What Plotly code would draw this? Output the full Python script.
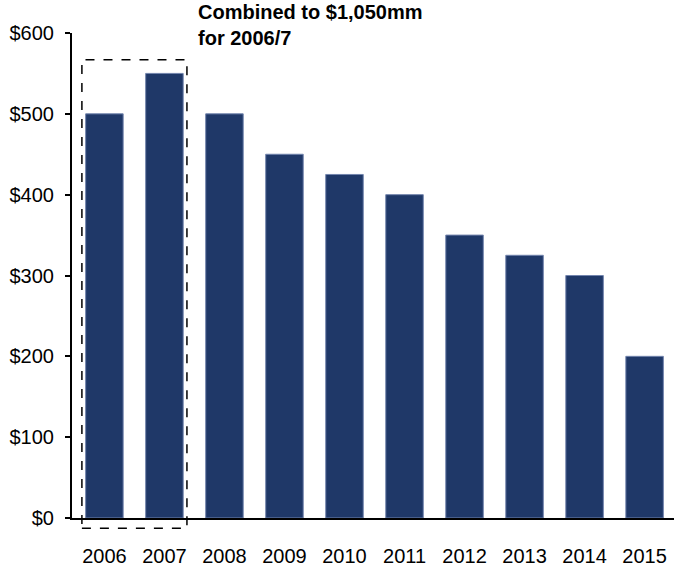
import plotly.graph_objects as go

years = ["2006", "2007", "2008", "2009", "2010", "2011", "2012", "2013", "2014", "2015"]
values = [500, 550, 500, 450, 425, 400, 350, 325, 300, 200]
y_ticks = [0, 100, 200, 300, 400, 500, 600]
note_lines = ["Combined to $1,050mm", "for 2006/7"]

FONT = "Arial, Liberation Sans, sans-serif"

fig = go.Figure(
    go.Bar(
        x=list(range(len(years))),
        y=values,
        width=0.625,
        marker=dict(color="#1f3868", line=dict(color="#7284ad", width=1)),
    )
)

fig.update_layout(
    width=674,
    height=567,
    margin=dict(l=72, r=0, t=33, b=49),
    plot_bgcolor="white",
    paper_bgcolor="white",
    showlegend=False,
    font=dict(family=FONT, color="black", size=20),
)

fig.update_xaxes(
    range=[-0.54, 9.49],
    tickvals=list(range(len(years))),
    ticktext=years,
    showline=True,
    linecolor="black",
    linewidth=2,
    ticks="",
    showgrid=False,
    zeroline=False,
    tickfont=dict(size=20, family=FONT),
    ticklabelstandoff=19,
)
fig.update_yaxes(
    range=[0, 600],
    tickvals=y_ticks,
    ticktext=[f"${v}" for v in y_ticks],
    showline=True,
    linecolor="black",
    linewidth=2,
    ticks="outside",
    ticklen=5,
    tickwidth=2,
    tickcolor="black",
    showgrid=False,
    zeroline=False,
    tickfont=dict(size=20, family=FONT),
    ticklabelstandoff=7,
)

fig.add_shape(
    type="rect",
    xref="x", yref="paper",
    x0=-0.375, x1=1.375,
    y0=-0.021, y1=0.945,
    line=dict(color="black", width=1.5, dash="dash"),
    fillcolor="rgba(0,0,0,0)",
)

fig.add_annotation(
    text=f"<b>{note_lines[0]}</b>",
    xref="paper", yref="paper",
    x=(196 - 72) / 602, y=1 + (33 - 12) / 485,
    xanchor="left", yanchor="middle",
    showarrow=False,
    font=dict(size=20, family=FONT, color="black"),
)
fig.add_annotation(
    text=f"<b>{note_lines[1]}</b>",
    xref="paper", yref="paper",
    x=(196 - 72) / 602, y=1 + (33 - 38) / 485,
    xanchor="left", yanchor="middle",
    showarrow=False,
    font=dict(size=20, family=FONT, color="black"),
)

fig.write_html(
    "out.html",
    config={"displayModeBar": False},
    post_script="document.body.style.margin='0';document.body.style.overflow='hidden';",
)
